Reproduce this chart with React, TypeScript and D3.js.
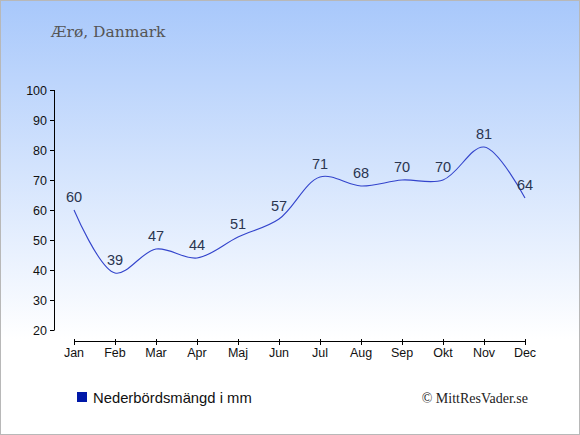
import React from "react";
import * as d3 from "d3";

const months = ["Jan", "Feb", "Mar", "Apr", "Maj", "Jun", "Jul", "Aug", "Sep", "Okt", "Nov", "Dec"];
const precipitation = [60, 39, 47, 44, 51, 57, 71, 68, 70, 70, 81, 64];
const yTicks = [20, 30, 40, 50, 60, 70, 80, 90, 100];
const title = "Ærø, Danmark";
const legendLabel = "Nederbördsmängd i mm";
const credit = "© MittResVader.se";

const W = 580;
const H = 435;

export default function App() {
  const x = d3.scalePoint<string>().domain(months).range([74, 525]);
  const y = d3.scaleLinear().domain([20, 100]).range([330, 90]);
  const line = d3
    .line<number>()
    .x((_, i) => x(months[i]) as number)
    .y((d) => y(d))
    .curve(d3.curveCatmullRom.alpha(0.5));
  const sans = "'Liberation Sans', Arial, sans-serif";
  const serif = "'DejaVu Serif', serif";
  return (
    <svg width={W} height={H} style={{ position: "absolute", left: 0, top: 0 }}>
      <defs>
        <linearGradient id="bg" x1="0" y1="0" x2="0" y2="1">
          <stop offset="0" stopColor="#a8c8fb" />
          <stop offset="0.78" stopColor="#ffffff" />
          <stop offset="1" stopColor="#ffffff" />
        </linearGradient>
      </defs>
      <rect x={0.5} y={0.5} width={W - 1} height={H - 1} fill="url(#bg)" stroke="#b8b8b8" />
      <text x={51} y={37} fontFamily={serif} fontSize={15.5} fill="#555">
        {title}
      </text>
      {/* y axis */}
      <line x1={54.5} x2={54.5} y1={y(100)} y2={y(20)} stroke="#000" />
      {yTicks.map((t) => (
        <g key={t}>
          <line x1={50} x2={54.5} y1={y(t) + 0.5} y2={y(t) + 0.5} stroke="#000" />
          <text x={47} y={y(t) + 4.5} textAnchor="end" fontFamily={sans} fontSize={12.5} fill="#111">
            {t}
          </text>
        </g>
      ))}
      {/* x axis */}
      <line x1={x("Jan")} x2={x("Dec")} y1={341.5} y2={341.5} stroke="#000" />
      {months.map((m) => (
        <g key={m}>
          <line x1={(x(m) as number) + 0.5} x2={(x(m) as number) + 0.5} y1={339} y2={345} stroke="#000" />
          <text x={x(m)} y={357} textAnchor="middle" fontFamily={sans} fontSize={12.5} fill="#111">
            {m}
          </text>
        </g>
      ))}
      <path d={line(precipitation) || ""} fill="none" stroke="#3344cc" strokeWidth={1.1} />
      {precipitation.map((v, i) => (
        <text
          key={i}
          x={x(months[i])}
          y={y(v) - 8}
          textAnchor="middle"
          fontFamily={sans}
          fontSize={14.5}
          fill="#2a3550"
        >
          {v}
        </text>
      ))}
      <rect x={77} y={392} width={10} height={10} fill="#0018a8" />
      <text x={93} y={403} fontFamily={sans} fontSize={14.8} fill="#111">
        {legendLabel}
      </text>
      <text x={528} y={403} textAnchor="end" fontFamily="'Liberation Serif', serif" fontSize={14} fill="#222">
        {credit}
      </text>
    </svg>
  );
}
